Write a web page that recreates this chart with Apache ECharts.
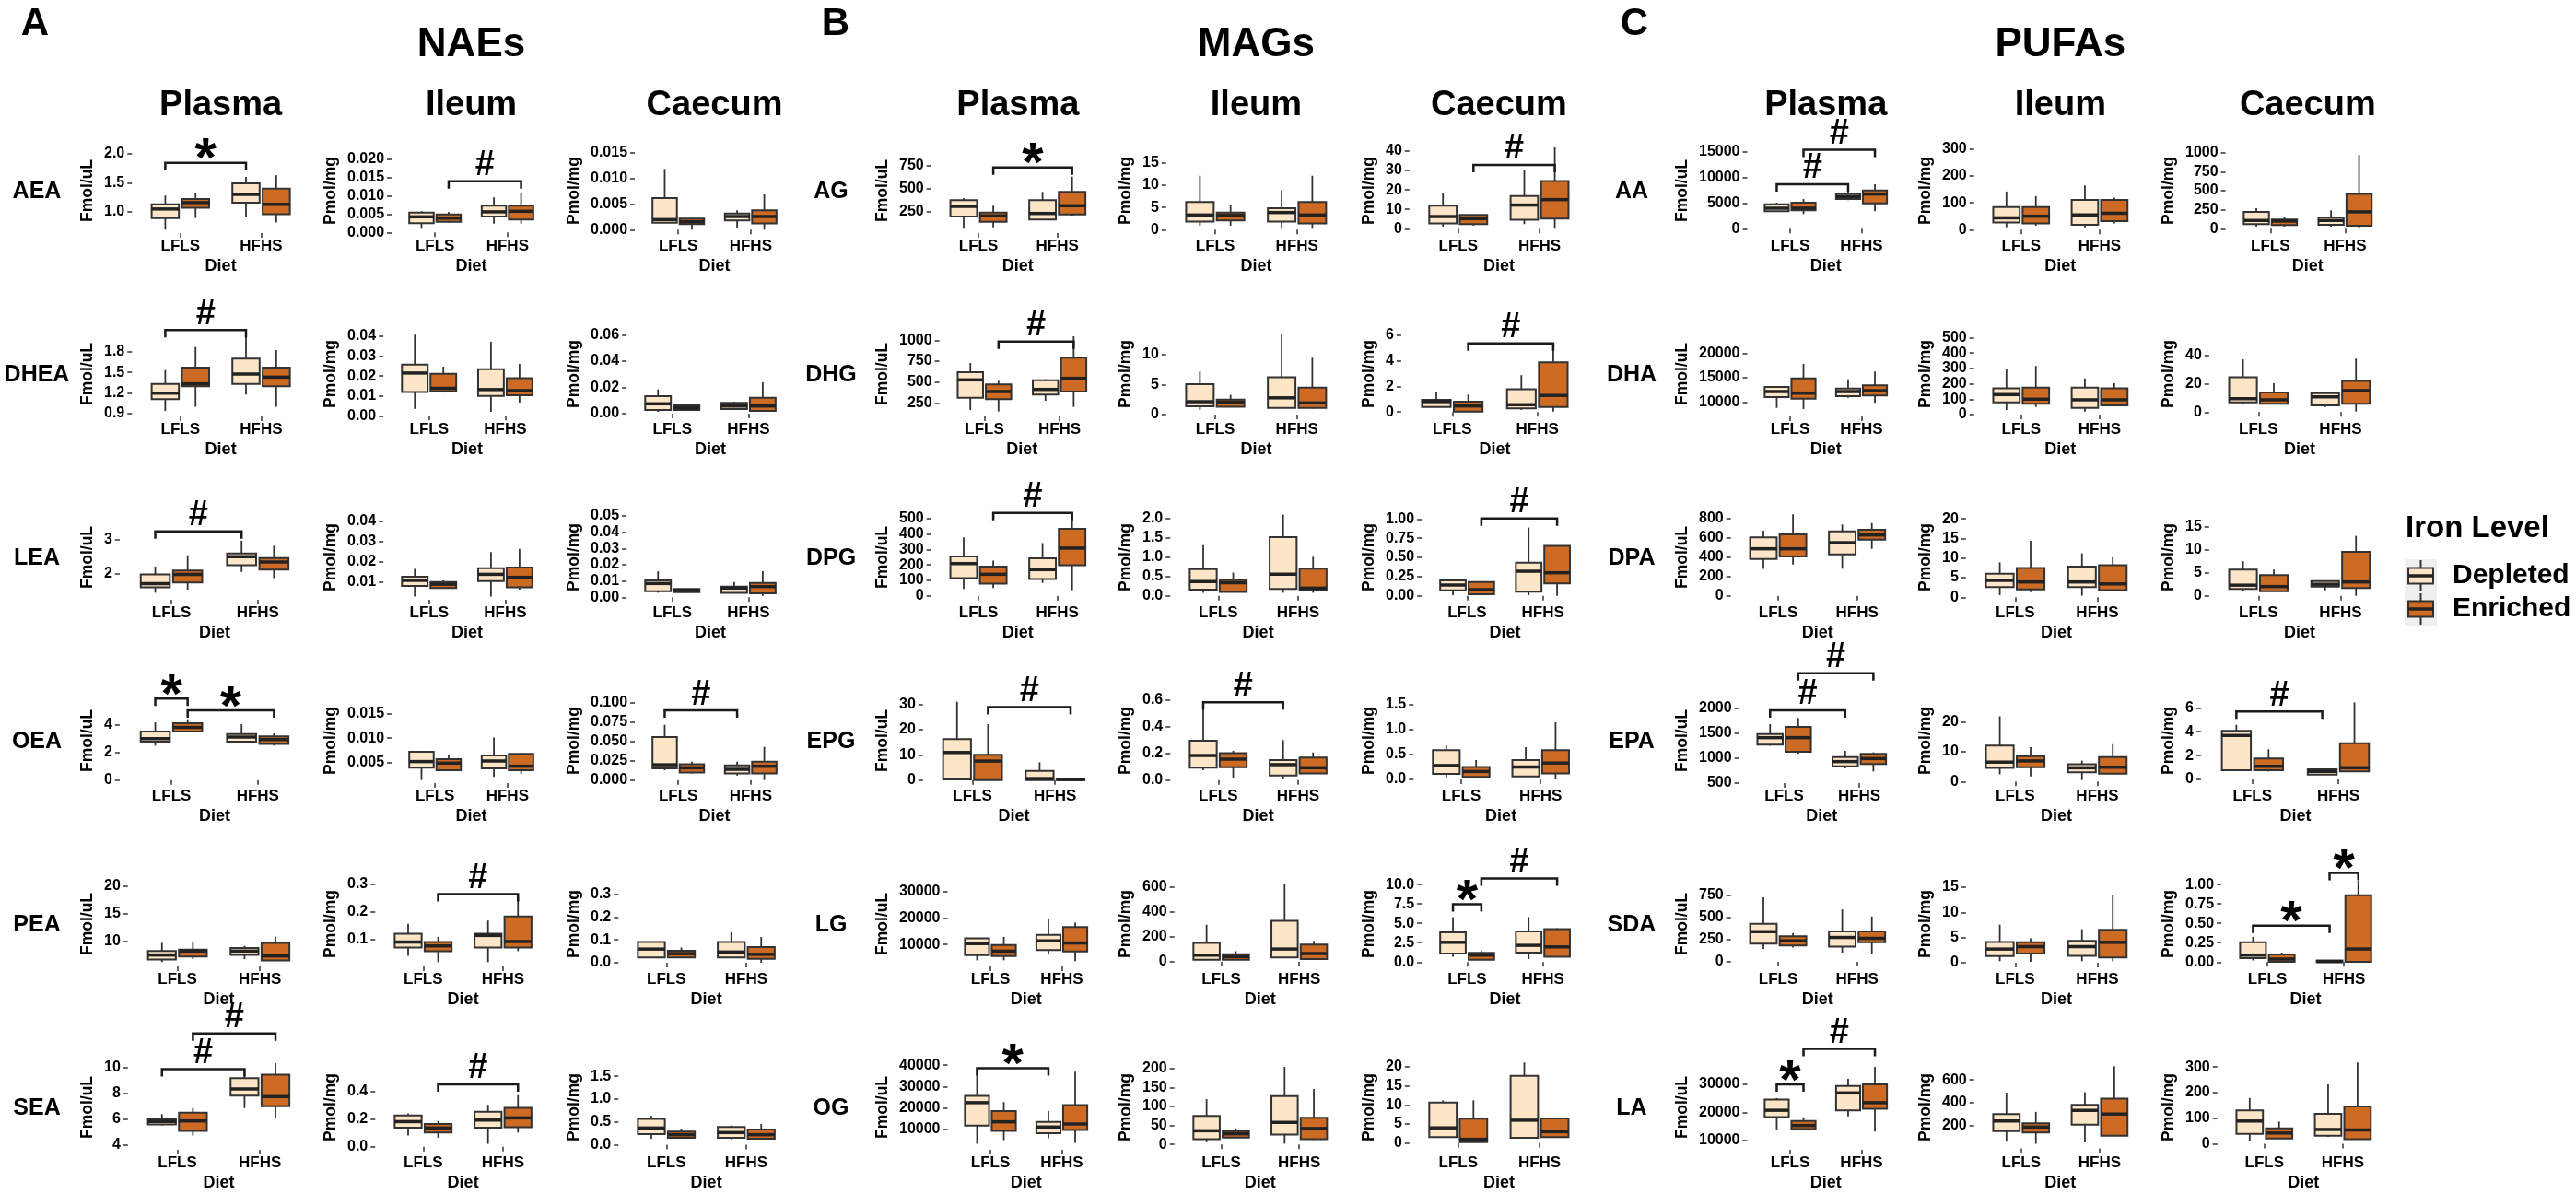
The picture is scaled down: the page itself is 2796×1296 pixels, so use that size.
<!DOCTYPE html>
<html><head><meta charset="utf-8">
<script src="https://cdn.jsdelivr.net/npm/echarts@6/dist/echarts.min.js"></script>
<style>html,body{margin:0;padding:0;background:#fff}#chart{width:2796px;height:1296px}</style>
</head><body><div id="chart"></div>
<script>
const FONT = '"Liberation Sans", Arial, sans-serif';

// ---------- categories / labels ----------
const categories = ['LFLS', 'HFHS'];
const ironLevels = ['Depleted', 'Enriched'];
const tissues = ['Plasma', 'Ileum', 'Caecum'];
const tissueUnits = ['Fmol/uL', 'Pmol/mg', 'Pmol/mg'];
const lipidClasses = ['NAEs', 'MAGs', 'PUFAs'];
const panelLetters = ['A', 'B', 'C'];
const naeAnalytes = ['AEA', 'DHEA', 'LEA', 'OEA', 'PEA', 'SEA'];
const magAnalytes = ['AG', 'DHG', 'DPG', 'EPG', 'LG', 'OG'];
const pufaAnalytes = ['AA', 'DHA', 'DPA', 'EPA', 'SDA', 'LA'];

// ---------- box statistics [min, q1, median, q3, max] ----------
// per analyte: [Plasma, Ileum, Caecum]; each: [LFLS-Depleted, LFLS-Enriched, HFHS-Depleted, HFHS-Enriched]
const AEA = [
  [[0.695,0.895,1.05,1.13,1.28],[0.895,1.07,1.16,1.22,1.33],[0.92,1.16,1.30,1.49,1.60],[0.82,0.96,1.13,1.40,1.63]],
  [[0.001,0.0025,0.00425,0.0054,0.00575],[0.0027,0.0029,0.0039,0.0049,0.0056],[0.0024,0.0043,0.0056,0.00725,0.0095],[0.0024,0.0035,0.00575,0.00725,0.01075]],
  [[0.00137,0.00137,0.00197,0.00616,0.01183],[0,0.00108,0.00155,0.00215,0.00227],[0.00036,0.00179,0.00257,0.00317,0.00376],[0,0.0012,0.00257,0.00376,0.00687]]
];
const DHEA = [
  [[0.94,1.11,1.198,1.332,1.532],[1.0,1.297,1.332,1.568,1.867],[1.177,1.332,1.475,1.698,2.036],[1.0,1.297,1.43,1.568,1.822]],
  [[0.0035,0.012,0.0215,0.0257,0.0408],[0.0117,0.0123,0.0138,0.0211,0.0247],[0.002,0.010,0.0132,0.0234,0.0372],[0.0066,0.0104,0.0127,0.0189,0.0261]],
  [[0.0014,0.0028,0.0075,0.0133,0.0184],[0.0021,0.0028,0.0044,0.0063,0.0063],[0.0028,0.0035,0.0058,0.0082,0.009],[0.0014,0.0021,0.0058,0.0121,0.0238]]
];
const LEA = [
  [[1.44,1.60,1.71,1.98,2.21],[1.53,1.74,1.98,2.09,2.54],[2.05,2.25,2.50,2.59,2.97],[1.87,2.12,2.34,2.46,2.82]],
  [[0.0028,0.008,0.0108,0.0126,0.0165],[0.007,0.007,0.0089,0.010,0.0108],[0.0028,0.0105,0.0138,0.0168,0.0248],[0.0062,0.0074,0.0123,0.0172,0.0264]],
  [[0.0028,0.0038,0.0085,0.0104,0.016],[0.0028,0.0032,0.0043,0.0051,0.0051],[0.0028,0.0028,0.0057,0.0066,0.0094],[0.0009,0.0025,0.0066,0.0089,0.016]]
];
const OEA = [
  [[2.49,2.78,3.0,3.51,4.18],[3.51,3.51,3.82,4.11,4.4],[2.67,2.78,3.11,3.33,4.04],[2.49,2.62,2.93,3.16,3.38]],
  [[0.0013,0.00385,0.00513,0.00717,0.00736],[0.00334,0.00334,0.00481,0.00564,0.00653],[0.00194,0.00373,0.00525,0.0064,0.0101],[0.00258,0.00334,0.00417,0.00672,0.00691]],
  [[0.0127,0.0151,0.0198,0.0556,0.0714],[0.0087,0.0099,0.0159,0.0206,0.0238],[0.006,0.0087,0.0139,0.019,0.0238],[0,0.0087,0.0179,0.0238,0.0429]]
];
const PEA = [
  [[6.26,6.7,7.53,8.24,9.73],[6.8,7.25,8.24,8.52,9.89],[6.8,7.53,8.24,8.79,9.18],[6.54,6.54,7.36,9.73,10.82]],
  [[0.041,0.071,0.091,0.121,0.157],[0.018,0.058,0.077,0.091,0.11],[0.018,0.071,0.115,0.121,0.169],[0.058,0.071,0.093,0.184,0.25]],
  [[0.02,0.023,0.06,0.091,0.093],[0.023,0.023,0.04,0.053,0.067],[0.02,0.023,0.047,0.091,0.133],[0,0.017,0.037,0.069,0.113]]
];
const SEA = [
  [[5.53,5.6,5.84,6.0,6.4],[4.75,5.11,5.88,6.52,6.87],[6.87,7.84,8.35,9.18,9.84],[6.07,7.01,7.76,9.46,10.35]],
  [[0.082,0.139,0.183,0.227,0.243],[0.066,0.104,0.137,0.166,0.188],[0.022,0.139,0.194,0.254,0.305],[0.104,0.143,0.21,0.283,0.375]],
  [[0.133,0.233,0.367,0.567,0.63],[0.153,0.153,0.22,0.287,0.353],[0.12,0.153,0.267,0.387,0.42],[0.12,0.133,0.22,0.333,0.453]]
];
const AG = [
  [[67,200,310,377,400],[83,143,207,243,317],[160,167,233,377,467],[210,223,317,467,633]],
  [[0.9,1.8,3.3,6.2,12.1],[0.9,2.1,3.2,3.85,5.5],[0.2,1.8,3.85,4.8,8.8],[0.2,1.4,3.3,6.2,12.1]],
  [[1.1,2.7,6.3,11.9,18.5],[1.6,2.4,5.2,7.1,7.1],[2.4,4.7,12.2,16.9,30],[0,5.2,15,24.5,41.9]]
];
const DHG = [
  [[167,314,527,618,728],[149,296,387.5,472,516],[277,351,413,523,534],[204,387.5,545,791,1047]],
  [[0.77,1.4,2.15,5.1,7.2],[1.3,1.3,2.05,2.5,3.3],[1.0,1.1,2.8,6.25,13.4],[1.0,1.1,1.95,4.5,9.5]],
  [[0.4,0.4,0.81,0.95,1.52],[0.04,0.04,0.47,0.81,1.36],[0.16,0.29,0.57,1.76,2.86],[0.04,0.4,1.29,3.86,5.29]]
];
const DPG = [
  [[44,115,208,254,377],[50,79,139,188,228],[83,109,169,242,341],[36,198,308,433,530]],
  [[0.08,0.16,0.37,0.69,1.31],[0.1,0.1,0.34,0.41,0.6],[0.08,0.18,0.56,1.52,2.10],[0.08,0.16,0.20,0.70,1.01]],
  [[0.008,0.072,0.14,0.20,0.22],[0.02,0.02,0.08,0.18,0.18],[0.008,0.052,0.32,0.43,0.89],[0,0.16,0.30,0.652,0.652]]
];
const EPG = [
  [[0,0.24,10.9,16.2,31.0],[0,0,7.5,10.0,22.1],[0,0,0.6,3.6,7.0],[0,0,0.24,0.6,0.6]],
  [[0.073,0.092,0.183,0.293,0.566],[0.011,0.096,0.156,0.2,0.218],[0.005,0.034,0.115,0.149,0.298],[0.05,0.05,0.092,0.167,0.206]],
  [[0.04,0.11,0.28,0.59,0.68],[0.05,0.05,0.16,0.25,0.39],[0.06,0.06,0.25,0.39,0.65],[0,0.12,0.33,0.59,1.15]]
];
const LG = [
  [[3988,5954,10347,12312,12312],[3988,5607,7457,9769,12890],[6532,7919,11387,13700,19480],[3642,7341,10578,16590,18324]],
  [[12,17,53,151,296],[12,17,41,61,85],[34,34,102,328,619],[17,22,66,138,168]],
  [[0.7,1.1,2.55,3.84,5.8],[0.31,0.31,0.9,1.18,1.49],[0.39,1.22,2.16,3.96,5.8],[0.7,0.7,1.96,4.24,4.35]]
];
const OG = [
  [[3143,11714,22429,25571,35714],[4857,9143,13429,18429,22714],[5714,8143,11000,13429,18429],[3571,9571,12429,21286,37000]],
  [[6,14,36,75,119],[18,18,28,35,42],[2,26,58,127,204],[12,14,42,70,146]],
  [[1.4,1.6,4.0,10.6,11.2],[0.24,0.24,1.0,6.4,11.2],[1.4,1.4,6.0,17.6,21.1],[1.4,1.6,3.0,6.45,6.6]]
];
const AA = [
  [[3270,3390,3990,4760,5060],[2860,3570,3990,5060,5770],[5540,5770,6250,6730,7440],[3390,4940,6730,7440,8630]],
  [[9,27,44,84,142],[15,23,50,84,125],[9,18,55,111,165],[23,32,61,111,119]],
  [[28,60,109,222,270],[28,48,101,121,161],[28,52,109,149,242],[0,40,222,456,968]]
];
const DHA = [
  [[8835,11030,12160,13100,13233],[8590,10714,11840,14850,17800],[10900,11220,12160,12780,14660],[9850,11350,12350,13420,16240]],
  [[30,80,130,170,295],[50,70,100,175,316],[20,44,96,175,235],[56,60,96,170,204]],
  [[5.9,6.9,9.5,24.7,37.3],[5.9,5.9,8.7,13.9,20.4],[3.6,4.8,10.8,13.4,14.5],[0.4,5.9,15.2,22.1,37.8]]
];
const DPA = [
  [[279,381,486,603,673],[324,406,486,635,841],[279,429,549,667,737],[486,581,629,683,752]],
  [[0.55,2.6,4.3,6.0,8.9],[1.3,2.0,3.9,7.5,14.4],[0.4,2.6,3.9,7.8,11.2],[1.6,1.8,3.4,8.2,10.2]],
  [[1.0,1.5,2.3,5.7,7.5],[1.0,1.0,2.0,4.5,5.7],[1.2,2.0,2.5,3.2,3.2],[0,1.7,3.0,9.5,13.0]]
];
const EPA = [
  [[1241,1259,1401,1475,1673],[1074,1117,1401,1617,1796],[784,827,920,1012,1136],[722,870,981,1074,1105]],
  [[2.4,4.6,6.5,12.0,21.8],[1.7,4.8,6.9,8.5,11.5],[0.5,3.1,4.6,5.8,7.0],[2.4,2.6,4.8,8.2,12.5]],
  [[0.77,0.77,3.68,4.07,4.58],[0.67,0.77,1.11,1.75,2.52],[0.41,0.41,0.67,0.85,0.85],[0.67,0.67,0.98,3.04,6.46]]
];
const SDA = [
  [[144,205,339,428,726],[161,185,236,288,325],[103,171,274,342,589],[92,219,264,342,510]],
  [[0.3,1.33,2.72,4.11,7.56],[0.18,1.81,3.2,4.05,4.84],[0.3,1.39,3.2,4.36,6.65],[0.3,1.03,4.05,6.53,13.5]],
  [[0.02,0.051,0.09,0.255,0.325],[0.004,0.004,0.039,0.098,0.122],[0,0,0.008,0.02,0.02],[0.004,0.004,0.169,0.863,1.05]]
];
const LA = [
  [[13607,18306,20710,24536,25082],[13934,13934,15246,16885,18197],[18525,20710,26940,29454,31967],[13060,21257,23443,30000,36339]],
  [[59,152,240,301,488],[40,139,187,219,320],[53,208,333,381,493],[112,112,301,435,720]],
  [[12,39,89,131,179],[21,21,42,60,87],[27,32,56,117,232],[18,18,54,146,318]]
];

// ---------- y tick labels [Plasma, Ileum, Caecum] ----------
const AEA_ticks = [['1.0','1.5','2.0'],['0.000','0.005','0.010','0.015','0.020'],['0.000','0.005','0.010','0.015']];
const DHEA_ticks = [['0.9','1.2','1.5','1.8'],['0.00','0.01','0.02','0.03','0.04'],['0.00','0.02','0.04','0.06']];
const LEA_ticks = [['2','3'],['0.01','0.02','0.03','0.04'],['0.00','0.01','0.02','0.03','0.04','0.05']];
const OEA_ticks = [['0','2','4'],['0.005','0.010','0.015'],['0.000','0.025','0.050','0.075','0.100']];
const PEA_ticks = [['10','15','20'],['0.1','0.2','0.3'],['0.0','0.1','0.2','0.3']];
const SEA_ticks = [['4','6','8','10'],['0.0','0.2','0.4','0.6'],['0.0','0.5','1.0','1.5']];
const AG_ticks = [['250','500','750'],['0','5','10','15'],['0','10','20','30','40']];
const DHG_ticks = [['250','500','750','1000'],['0','5','10'],['0','2','4','6']];
const DPG_ticks = [['0','100','200','300','400','500'],['0.0','0.5','1.0','1.5','2.0'],['0.00','0.25','0.50','0.75','1.00']];
const EPG_ticks = [['0','10','20','30'],['0.0','0.2','0.4','0.6'],['0.0','0.5','1.0','1.5']];
const LG_ticks = [['10000','20000','30000'],['0','200','400','600'],['0.0','2.5','5.0','7.5','10.0']];
const OG_ticks = [['10000','20000','30000','40000'],['0','50','100','150','200'],['0','5','10','15','20']];
const AA_ticks = [['0','5000','10000','15000'],['0','100','200','300'],['0','250','500','750','1000']];
const DHA_ticks = [['10000','15000','20000'],['0','100','200','300','400','500'],['0','20','40']];
const DPA_ticks = [['0','200','400','600','800'],['0','5','10','15','20'],['0','5','10','15']];
const EPA_ticks = [['500','1000','1500','2000'],['0','10','20'],['0','2','4','6']];
const SDA_ticks = [['0','250','500','750'],['0','5','10','15'],['0.00','0.25','0.50','0.75','1.00']];
const LA_ticks = [['10000','20000','30000'],['200','400','600'],['0','100','200','300']];

// ---------- significance brackets: [analyte, tissue index, from, to, y, label] ----------
const significance = [
  ['AEA',0,'LD','HD',1.84,'*'], ['AEA',1,'LE','HE',0.0139,'#'],
  ['DHEA',0,'LD','HD',2.112,'#'],
  ['LEA',0,'LD','HD',3.24,'#'],
  ['OEA',0,'LD','LE',5.89,'*'], ['OEA',0,'LE','HE',5.04,'*'], ['OEA',2,'LD','HD',0.090,'#'],
  ['PEA',1,'LE','HE',0.265,'#'],
  ['SEA',0,'LD','HD',9.88,'#'], ['SEA',0,'LE','HE',12.64,'#'], ['SEA',1,'LE','HE',0.453,'#'],
  ['AG',0,'LE','HE',733,'*'], ['AG',2,'LE','HE',32.9,'#'],
  ['DHG',0,'LE','HE',985,'#'], ['DHG',2,'LE','HE',5.33,'#'],
  ['DPG',0,'LE','HE',536,'#'], ['DPG',2,'LE','HE',1.008,'#'],
  ['EPG',0,'LE','HE',28.9,'#'], ['EPG',1,'LD','HD',0.579,'#'],
  ['LG',2,'LD','LE',7.45,'*'], ['LG',2,'LE','HE',10.8,'#'],
  ['OG',0,'LD','HD',38571,'*'],
  ['AA',0,'LD','HD',8630,'#'], ['AA',0,'LE','HE',15300,'#'],
  ['EPA',0,'LD','HD',1951,'#'], ['EPA',0,'LE','HE',2698,'#'], ['EPA',2,'LD','HD',5.69,'#'],
  ['SDA',2,'LD','HD',0.47,'*'], ['SDA',2,'HD','HE',1.149,'*'],
  ['LA',0,'LD','LE',30000,'*'], ['LA',0,'LE','HE',42787,'#']
];

// ---------- axis ranges (layout) [min, max] per tissue ----------
const yRanges = {
  AEA:[[0.637,2.090],[-0.000175,0.02283],[-0.00066,0.01583]],
  DHEA:[[0.86,2.09],[-0.0003,0.0423],[-0.0021,0.0623]],
  LEA:[[1.235,3.721],[0.0012,0.0432],[-0.0015,0.0506]],
  OEA:[[-0.22,5.914],[0.00066,0.01824],[-0.0039,0.1056]],
  PEA:[[5.47,20.77],[0.0026,0.310],[-0.016,0.355]],
  SEA:[[3.65,10.20],[-0.021,0.593],[-0.11,1.746]],
  AG:[[20,940],[-0.76,18.23],[-2.23,41.39]],
  DHG:[[90.5,1102.6],[-0.31,13.86],[-0.34,6.236]],
  DPG:[[-25.6,522.1],[-0.10,2.088],[-0.052,1.053]],
  EPG:[[-1.2,32.32],[-0.0227,0.609],[-0.074,1.63]],
  LG:[[1670,33871],[-37,639.8],[-0.56,10.37]],
  OG:[[311,40104],[-14,208.8],[-1.74,20.45]],
  AA:[[-839,15589],[-12.8,302.8],[-57,1055.8]],
  DHA:[[7086,24380],[-12,538.9],[-3.06,56.9]],
  DPA:[[-41,835],[-0.64,20.99],[-0.86,17.51]],
  EPA:[[487,2191],[-0.52,27.82],[-0.31,6.80]],
  SDA:[[-52,901.6],[-0.73,16.09],[-0.056,1.037]],
  LA:[[6526,36969],[-12,730.4],[-23.4,308.1]]
};

const boxStats = {AEA,DHEA,LEA,OEA,PEA,SEA,AG,DHG,DPG,EPG,LG,OG,AA,DHA,DPA,EPA,SDA,LA};
const tickLabels = {AEA:AEA_ticks,DHEA:DHEA_ticks,LEA:LEA_ticks,OEA:OEA_ticks,PEA:PEA_ticks,SEA:SEA_ticks,
  AG:AG_ticks,DHG:DHG_ticks,DPG:DPG_ticks,EPG:EPG_ticks,LG:LG_ticks,OG:OG_ticks,
  AA:AA_ticks,DHA:DHA_ticks,DPA:DPA_ticks,EPA:EPA_ticks,SDA:SDA_ticks,LA:LA_ticks};
const classAnalytes = [naeAnalytes, magAnalytes, pufaAnalytes];

// ---------- layout & style ----------
const COLORS = ['#FDE5C8', '#CD6A24'];
const OUTLINE = '#333333';
const PANEL_H = 92;
const rowBottom = r => 253 + 199 * r;
const COLUMN_LAYOUT = [
  {letterX: 38, rowLabelX: 40, nameX: [95, 359, 623], right: [336, 598, 862]},
  {letterX: 907, rowLabelX: 902, nameX: [958, 1222, 1486], right: [1199, 1461, 1724]},
  {letterX: 1774, rowLabelX: 1771, nameX: [1826, 2090, 2354], right: [2067, 2330, 2594]}
];
const GROUP_POS = {LD: [1, 0], LE: [1, 1], HD: [2, 0], HE: [2, 1]};

const mctx = document.createElement('canvas').getContext('2d');
mctx.font = 'bold 16px ' + FONT;
const textW = s => mctx.measureText(s).width;

function boxCenter(api, xc, g) {
  const unit = api.size([1, 0])[0];
  return api.coord([xc, 0])[0] + (g === 0 ? -1 : 1) * 0.1875 * unit;
}

function renderBox(params, api) {
  const xc = api.value(0), g = api.value(1);
  const unit = api.size([1, 0])[0];
  const cx = boxCenter(api, xc, g);
  const hw = 0.16875 * unit;
  const y = [2, 3, 4, 5, 6].map(i => api.coord([xc, api.value(i)])[1]);
  const fill = api.visual('color');
  return {type: 'group', children: [
    {type: 'line', shape: {x1: cx, y1: y[4], x2: cx, y2: y[3]}, style: {stroke: OUTLINE, lineWidth: 1.8}},
    {type: 'line', shape: {x1: cx, y1: y[1], x2: cx, y2: y[0]}, style: {stroke: OUTLINE, lineWidth: 1.8}},
    {type: 'rect', shape: {x: cx - hw, y: y[3], width: 2 * hw, height: Math.max(1, y[1] - y[3])},
      style: {fill: fill, stroke: OUTLINE, lineWidth: 2}},
    {type: 'line', shape: {x1: cx - hw, y1: y[2], x2: cx + hw, y2: y[2]}, style: {stroke: '#222', lineWidth: 3.5}}
  ]};
}

function makeSigRenderer(labels) {
  return function (params, api) {
    const x1 = boxCenter(api, api.value(0), api.value(1));
    const x2 = boxCenter(api, api.value(2), api.value(3));
    const yb = api.coord([1, api.value(4)])[1];
    const lab = labels[params.dataIndex];
    const star = lab === '*';
    const ty = star ? yb - 2 : yb - 17;
    const font = 'bold ' + (star ? 60 : 38) + 'px ' + FONT;
    return {type: 'group', children: [
      {type: 'polyline', shape: {points: [[x1, yb + 8], [x1, yb], [x2, yb], [x2, yb + 8]]},
        style: {stroke: '#1a1a1a', lineWidth: 2.5, fill: null}},
      {type: 'text', x: (x1 + x2) / 2, y: ty,
        style: {text: lab, font: font, fill: '#000', align: 'center', verticalAlign: 'middle',
          textAlign: 'center', textVerticalAlign: 'middle'}}
    ]};
  };
}

const grids = [], xAxes = [], yAxes = [], series = [], graphics = [];
const txt = (text, x, y, size, align) => ({type: 'text', x: x, y: y, silent: true,
  style: {text: text, font: 'bold ' + size + 'px ' + FONT, fill: '#000',
    align: align || 'center', verticalAlign: 'middle', textAlign: align || 'center', textVerticalAlign: 'middle'}});

classAnalytes.forEach((list, ci) => {
  const L = COLUMN_LAYOUT[ci];
  const headerX = [];
  list.forEach((an, ri) => {
    const stats = boxStats[an], ticks = tickLabels[an], ranges = yRanges[an];
    const bottom = rowBottom(ri);
    graphics.push(txt(an, L.rowLabelX, bottom - 45, 25));
    tissues.forEach((tis, ti) => {
      const gi = grids.length;
      const tk = ticks[ti];
      const tv = tk.map(Number);
      const lw = Math.max.apply(null, tk.map(textW));
      const left = L.nameX[ti] + 18 + lw + 8;
      if (ri === 0) headerX[ti] = (left + L.right[ti]) / 2;
      grids.push({left: left, top: bottom - PANEL_H, width: L.right[ti] - left, height: PANEL_H, outerBoundsMode: 'none'});
      xAxes.push({gridIndex: gi, type: 'value', min: 0.4, max: 2.6,
        axisLine: {show: false}, splitLine: {show: false},
        axisTick: {show: true, customValues: [1, 2], length: 5, lineStyle: {color: OUTLINE, width: 1.5}},
        axisLabel: {customValues: [1, 2], formatter: v => categories[Math.round(v) - 1], margin: 6,
          color: '#000', fontSize: 17, fontWeight: 'bold', fontFamily: FONT},
        name: 'Diet', nameLocation: 'middle', nameGap: 36,
        nameTextStyle: {fontSize: 18, fontWeight: 'bold', fontFamily: FONT, color: '#000', verticalAlign: 'middle'}});
      yAxes.push({gridIndex: gi, type: 'value', min: ranges[ti][0], max: ranges[ti][1],
        axisLine: {show: false}, splitLine: {show: false},
        axisTick: {show: true, customValues: tv, length: 5, lineStyle: {color: OUTLINE, width: 1.5}},
        axisLabel: {customValues: tv, margin: 8, color: '#000', fontSize: 16, fontWeight: 'bold', fontFamily: FONT,
          formatter: v => { const k = tv.findIndex(t => Math.abs(t - v) <= 1e-12 + 1e-9 * Math.abs(t)); return k >= 0 ? tk[k] : ''; }},
        name: tissueUnits[ti], nameLocation: 'middle', nameRotate: 90, nameGap: left - L.nameX[ti],
        nameTextStyle: {fontSize: 17.5, fontWeight: 'bold', fontFamily: FONT, color: '#000', align: 'center', verticalAlign: 'middle'}});
      ironLevels.forEach((lvl, g) => {
        series.push({type: 'custom', name: lvl, xAxisIndex: gi, yAxisIndex: gi, clip: false, silent: true,
          itemStyle: {color: COLORS[g]}, renderItem: renderBox, encode: {x: 0, y: [2, 3, 4, 5, 6]},
          data: [[1, g].concat(stats[ti][g]), [2, g].concat(stats[ti][2 + g])]});
      });
      const sigs = significance.filter(s => s[0] === an && s[1] === ti);
      if (sigs.length) {
        series.push({type: 'custom', name: 'sig-' + an + '-' + tis, xAxisIndex: gi, yAxisIndex: gi, clip: false, silent: true,
          renderItem: makeSigRenderer(sigs.map(s => s[5])), encode: {x: 0, y: 4},
          data: sigs.map(s => GROUP_POS[s[2]].concat(GROUP_POS[s[3]], [s[4]]))});
      }
    });
  });
  tissues.forEach((tis, ti) => graphics.push(txt(tis, headerX[ti], 115, 38)));
  graphics.push(txt(lipidClasses[ci], headerX[1], 49, 44));
  graphics.push(txt(panelLetters[ci], L.letterX, 26, 42));
});

graphics.push(txt('Iron Level', 2611, 574, 33, 'left'));

function legendIcon(color) {
  const svg = '<svg xmlns="http://www.w3.org/2000/svg" width="35" height="36" viewBox="0 0 35 36">' +
    '<rect width="35" height="36" fill="#EFEFEF"/>' +
    '<line x1="17.5" y1="1" x2="17.5" y2="35" stroke="#333" stroke-width="2"/>' +
    '<rect x="4" y="9.5" width="27" height="17" fill="' + color + '" stroke="#333" stroke-width="2"/>' +
    '<line x1="4" y1="18" x2="31" y2="18" stroke="#222" stroke-width="3.5"/></svg>';
  return 'image://data:image/svg+xml;charset=utf-8,' + encodeURIComponent(svg);
}

const chart = echarts.init(document.getElementById('chart'));
chart.setOption({
  backgroundColor: '#ffffff',
  animation: false,
  grid: grids,
  xAxis: xAxes,
  yAxis: yAxes,
  series: series,
  graphic: graphics,
  legend: {orient: 'vertical', left: 2610, top: 607, itemWidth: 35, itemHeight: 36, itemGap: 0,
    selectedMode: false, padding: 0,
    data: ironLevels.map((n, g) => ({name: n, icon: legendIcon(COLORS[g])})),
    textStyle: {fontSize: 30, fontWeight: 'bold', fontFamily: FONT, color: '#000', padding: [0, 0, 0, 12]}}
});
</script></body></html>
